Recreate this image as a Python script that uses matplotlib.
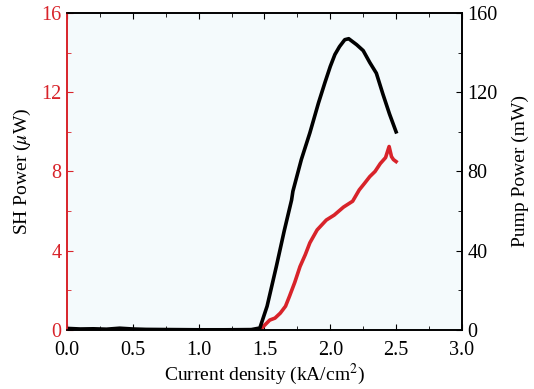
import numpy as np
import matplotlib.pyplot as plt
from matplotlib.ticker import MultipleLocator

plt.rcParams['font.family'] = ['Liberation Serif', 'DejaVu Serif']
plt.rcParams['mathtext.fontset'] = 'stix'

RED = '#d8232a'

# SH power (uW), left axis
sh_x = [0.75, 1.0, 1.3, 1.465, 1.54, 1.58, 1.62, 1.66, 1.69, 1.73, 1.77, 1.81, 1.845,
        1.9, 1.97, 2.03, 2.10, 2.17, 2.22, 2.26, 2.30, 2.34, 2.38, 2.42, 2.447, 2.465, 2.48, 2.50]
sh_y = [0.0, 0.0, 0.0, 0.0, 0.5, 0.6, 0.85, 1.2, 1.7, 2.4, 3.2, 3.8, 4.4,
        5.05, 5.55, 5.8, 6.2, 6.5, 7.07, 7.4, 7.74, 8.0, 8.4, 8.7, 9.26, 8.75, 8.6, 8.5]

# Pump power (mW), right axis
pump_x = [0.0, 0.1, 0.2, 0.3, 0.4, 0.5, 0.6, 0.8, 1.0, 1.2, 1.4, 1.465, 1.52, 1.59,
          1.65, 1.706, 1.716, 1.78, 1.845, 1.91, 1.96, 2.0, 2.035, 2.07, 2.11, 2.14,
          2.2, 2.25, 2.30, 2.35, 2.40, 2.45, 2.50]
pump_y = [0.8, 0.5, 0.6, 0.4, 0.9, 0.5, 0.3, 0.2, 0.1, 0.1, 0.2, 1.0, 12, 32,
          50, 65.6, 70, 86, 99.5, 114.5, 125, 133, 139, 143, 146.5, 147,
          144, 141, 135, 129.6, 119, 109, 100]

x_ticks = [0, 0.5, 1.0, 1.5, 2.0, 2.5, 3.0]
x_labels = ['0.0', '0.5', '1.0', '1.5', '2.0', '2.5', '3.0']

fig = plt.figure(figsize=(5.34, 3.89), dpi=100)
ax = fig.add_axes([0.1255, 0.1517, 0.7395, 0.815])
ax.set_facecolor('#f4fafc')
ax2 = ax.twinx()

ax.plot(sh_x, sh_y, color=RED, lw=2.6, solid_joinstyle='round')
ax2.plot(pump_x, pump_y, color='black', lw=2.6, solid_joinstyle='round')

ax.set_xlim(0, 3.0)
ax.set_ylim(0, 16)
ax2.set_ylim(0, 160)

ax.set_xticks(x_ticks)
ax.set_xticklabels(x_labels)
ax.xaxis.set_minor_locator(MultipleLocator(0.25))
ax.yaxis.set_major_locator(MultipleLocator(4))
ax.yaxis.set_minor_locator(MultipleLocator(2))
ax2.yaxis.set_major_locator(MultipleLocator(40))
ax2.yaxis.set_minor_locator(MultipleLocator(20))

fs = 14.5
ax.tick_params(axis='x', which='both', direction='in', top=True, labelsize=fs, pad=8)
ax.tick_params(axis='x', which='major', length=4)
ax.tick_params(axis='x', which='minor', length=3)
ax.tick_params(axis='y', which='both', direction='in', colors=RED, labelsize=fs, pad=4)
ax.tick_params(axis='y', which='major', length=4)
ax.tick_params(axis='y', which='minor', length=3)
ax2.tick_params(axis='y', which='both', direction='in', labelsize=fs, pad=4)
ax2.tick_params(axis='y', which='major', length=4)
ax2.tick_params(axis='y', which='minor', length=3)

ax2.spines['left'].set_color(RED)
ax.spines['left'].set_color(RED)
for a in (ax, ax2):
    for s in a.spines.values():
        s.set_linewidth(1.2)

ax.set_xlabel('Current density (kA/cm$^2$)', fontsize=14, labelpad=1)
ax.set_ylabel('SH Power ($\\mu$W)', fontsize=14, labelpad=6)
ax2.set_ylabel('Pump Power (mW)', fontsize=14, labelpad=10)

fig.savefig('out.png', dpi=100)
